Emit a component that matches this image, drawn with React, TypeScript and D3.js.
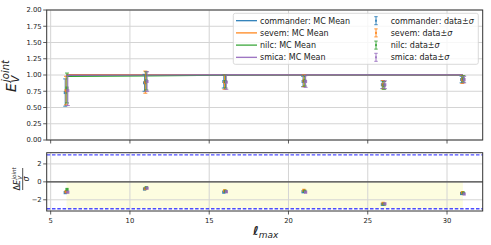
import React from 'react';
import * as d3 from 'd3';

const lmax = [6, 11, 16, 21, 26, 31];
const methods = ['commander', 'sevem', 'nilc', 'smica'];
const colors = ['#1f77b4', '#ff7f0e', '#2ca02c', '#9467bd'];
const xOffsets = [-0.08, -0.03, 0.03, 0.08];

// MC mean of E_V^joint
const commanderMC = [0.995, 1.0, 1.002, 1.0, 1.001, 1.0];
const sevemMC = [1.006, 1.004, 1.0, 1.002, 1.0, 1.001];
const nilcMC = [0.98, 0.986, 0.996, 1.0, 1.0, 1.0];
const smicaMC = [0.998, 1.0, 1.001, 1.003, 1.002, 1.003];

// observed E_V^joint
const commanderData = [0.73, 0.88, 0.9, 0.9, 0.85, 0.93];
const sevemData = [0.76, 0.89, 0.89, 0.91, 0.85, 0.93];
const nilcData = [0.8, 0.91, 0.9, 0.91, 0.84, 0.94];
const smicaData = [0.76, 0.9, 0.89, 0.9, 0.85, 0.93];

const commanderSigma = [0.21, 0.13, 0.1, 0.08, 0.06, 0.05];
const sevemSigma = [0.22, 0.17, 0.11, 0.09, 0.065, 0.06];
const nilcSigma = [0.23, 0.14, 0.1, 0.08, 0.06, 0.05];
const smicaSigma = [0.23, 0.15, 0.11, 0.09, 0.06, 0.05];

// (data - MC) / sigma
const commanderDev = [-1.2, -0.8, -1.15, -1.1, -2.5, -1.3];
const sevemDev = [-1.1, -0.75, -1.0, -0.95, -2.4, -1.2];
const nilcDev = [-0.85, -0.65, -1.05, -1.05, -2.5, -1.25];
const smicaDev = [-1.15, -0.7, -1.1, -1.15, -2.45, -1.35];

const xTicks = [5, 10, 15, 20, 25, 30];
const yTopTicks = [0, 0.25, 0.5, 0.75, 1.0, 1.25, 1.5, 1.75, 2.0];
const yBotTicks = [-2, 0, 2];
const threshold = 3;

const mcSeries = [commanderMC, sevemMC, nilcMC, smicaMC];
const dataSeries = [commanderData, sevemData, nilcData, smicaData];
const sigmaSeries = [commanderSigma, sevemSigma, nilcSigma, smicaSigma];
const devSeries = [commanderDev, sevemDev, nilcDev, smicaDev];

const W = 491;
const H = 245;
const left = 46.7;
const right = 482.7;
const font = 'DejaVu Sans, sans-serif';
const gridColor = '#d4d4d4';
const spine = '#333';

export default function App() {
  const x = d3.scaleLinear().domain([4.75, 32.25]).range([left, right]);
  const yTop = d3.scaleLinear().domain([0, 2]).range([140, 10]);
  const yBot = d3.scaleLinear().domain([-3.25, 3.25]).range([211, 152.7]);

  const line = d3
    .line<number>()
    .x((_, i) => x(lmax[i]))
    .y((d) => yTop(d));

  const fillArea = d3
    .area<number>()
    .x((d) => x(d))
    .y0(yBot(0))
    .y1(yBot(-threshold));

  const [t1, b1] = yTop.range().slice().reverse();
  const [t2, b2] = yBot.range().slice().reverse();

  const legendRows = [20.7, 32.9, 45.1, 57.3];

  return (
    <svg
      width={W}
      height={H}
      style={{ position: 'absolute', left: 0, top: 0, background: '#fff' }}
      fontFamily={font}
    >
      {/* ---------- top panel ---------- */}
      <g>
        {xTicks.map((t) => (
          <line key={'gx' + t} x1={x(t)} x2={x(t)} y1={t1} y2={b1} stroke={gridColor} strokeWidth={1} />
        ))}
        {yTopTicks.map((t) => (
          <line key={'gy' + t} x1={left} x2={right} y1={yTop(t)} y2={yTop(t)} stroke={gridColor} strokeWidth={1} />
        ))}
        {mcSeries.map((s, k) => (
          <path key={'mc' + k} d={line(s) || ''} fill="none" stroke={colors[k]} strokeWidth={1.2} />
        ))}
        {dataSeries.map((s, k) => (
          <g key={'eb' + k} stroke={colors[k]} opacity={0.85}>
            {s.map((v, i) => {
              const cx = x(lmax[i] + xOffsets[k]);
              const lo = yTop(v - sigmaSeries[k][i]);
              const hi = yTop(v + sigmaSeries[k][i]);
              return (
                <g key={i}>
                  <line x1={cx} x2={cx} y1={lo} y2={hi} strokeWidth={1.1} />
                  <line x1={cx - 2} x2={cx + 2} y1={lo} y2={lo} strokeWidth={1} />
                  <line x1={cx - 2} x2={cx + 2} y1={hi} y2={hi} strokeWidth={1} />
                  <rect x={cx - 1.5} y={yTop(v) - 1.5} width={3} height={3} fill={colors[k]} stroke="none" />
                </g>
              );
            })}
          </g>
        ))}
        <rect x={left} y={t1} width={right - left} height={b1 - t1} fill="none" stroke={spine} strokeWidth={1} />
        {xTicks.map((t) => (
          <line key={'tx' + t} x1={x(t)} x2={x(t)} y1={b1} y2={b1 + 3.5} stroke={spine} strokeWidth={0.8} />
        ))}
        {yTopTicks.map((t) => (
          <g key={'ty' + t}>
            <line x1={left - 3.5} x2={left} y1={yTop(t)} y2={yTop(t)} stroke={spine} strokeWidth={0.8} />
            <text x={left - 5} y={yTop(t) + 2.4} fontSize={6.8} textAnchor="end" fill="#222">
              {t.toFixed(2)}
            </text>
          </g>
        ))}
        {/* y label E_V^joint */}
        <g transform="translate(15.5,92) rotate(-90)">
          <text x={0} y={0} fontSize={14} fontStyle="italic" fill="#222">E</text>
          <text x={10} y={-6.5} fontSize={10} fontStyle="italic" fill="#222">joint</text>
          <text x={9.5} y={3} fontSize={10} fontStyle="italic" fill="#222">V</text>
        </g>
        {/* legend */}
        <rect x={233.3} y={13.3} width={245} height={51} rx={2} fill="#fff" fillOpacity={0.8} stroke="#d0d0d0" strokeWidth={0.8} />
        {methods.map((m, k) => (
          <g key={'lg' + m}>
            <line x1={236} x2={257} y1={legendRows[k]} y2={legendRows[k]} stroke={colors[k]} strokeWidth={1.2} />
            <text x={260} y={legendRows[k] + 2.9} fontSize={8} fill="#222">
              {m}: MC Mean
            </text>
            <g stroke={colors[k]} opacity={0.85}>
              <line x1={376} x2={376} y1={legendRows[k] - 4} y2={legendRows[k] + 4} strokeWidth={1} />
              <line x1={374.3} x2={377.7} y1={legendRows[k] - 4} y2={legendRows[k] - 4} strokeWidth={1} />
              <line x1={374.3} x2={377.7} y1={legendRows[k] + 4} y2={legendRows[k] + 4} strokeWidth={1} />
              <rect x={375} y={legendRows[k] - 1} width={2} height={2} fill={colors[k]} stroke="none" />
            </g>
            <text x={390.7} y={legendRows[k] + 2.9} fontSize={8} fill="#222">
              {m}: data±<tspan fontStyle="italic">σ</tspan>
            </text>
          </g>
        ))}
      </g>

      {/* ---------- bottom panel ---------- */}
      <g>
        <path d={fillArea([lmax[0], lmax[lmax.length - 1]]) || ''} fill="#fdfde0" />
        {xTicks.map((t) => (
          <line key={'bgx' + t} x1={x(t)} x2={x(t)} y1={t2} y2={b2} stroke={gridColor} strokeWidth={1} />
        ))}
        {yBotTicks.map((t) => (
          <line key={'bgy' + t} x1={left} x2={right} y1={yBot(t)} y2={yBot(t)} stroke={gridColor} strokeWidth={1} />
        ))}
        <line x1={left} x2={right} y1={yBot(0)} y2={yBot(0)} stroke="#444" strokeWidth={1.4} />
        {[threshold, -threshold].map((t) => (
          <line
            key={'th' + t}
            x1={left}
            x2={right}
            y1={yBot(t)}
            y2={yBot(t)}
            stroke="#2020ff"
            strokeOpacity={0.8}
            strokeWidth={1.3}
            strokeDasharray="3.5,1.8"
          />
        ))}
        {devSeries.map((s, k) =>
          s.map((v, i) => (
            <rect
              key={'dv' + k + '-' + i}
              x={x(lmax[i] + xOffsets[k]) - 1.6}
              y={yBot(v) - 1.6}
              width={3.2}
              height={3.2}
              fill={colors[k]}
              opacity={0.9}
            />
          ))
        )}
        <rect x={left} y={t2} width={right - left} height={b2 - t2} fill="none" stroke={spine} strokeWidth={1} />
        {xTicks.map((t) => (
          <g key={'btx' + t}>
            <line x1={x(t)} x2={x(t)} y1={b2} y2={b2 + 3.5} stroke={spine} strokeWidth={0.8} />
            <text x={x(t)} y={b2 + 11.5} fontSize={6.8} textAnchor="middle" fill="#222">
              {t}
            </text>
          </g>
        ))}
        {yBotTicks.map((t) => (
          <g key={'bty' + t}>
            <line x1={left - 3.5} x2={left} y1={yBot(t)} y2={yBot(t)} stroke={spine} strokeWidth={0.8} />
            <text x={left - 5} y={yBot(t) + 2.4} fontSize={6.8} textAnchor="end" fill="#222">
              {t < 0 ? '\u2212' + Math.abs(t) : t}
            </text>
          </g>
        ))}
        {/* y label: Delta E_V^joint / sigma */}
        <g transform="translate(22.7,179) rotate(-90)">
          <text x={-11.5} y={-3} fontSize={8} fill="#222">Δ<tspan fontStyle="italic">E</tspan></text>
          <text x={-0.5} y={-7} fontSize={5.6} fontStyle="italic" fill="#222">joint</text>
          <text x={-0.8} y={-1} fontSize={5.6} fontStyle="italic" fill="#222">V</text>
          <line x1={-11} x2={11} y1={0} y2={0} stroke="#222" strokeWidth={0.8} />
          <text x={0} y={6.5} fontSize={8} fontStyle="italic" textAnchor="middle" fill="#222">σ</text>
        </g>
        {/* x label */}
        <text x={253} y={235} fontSize={12} fontStyle="italic" fontWeight="bold" fill="#222">
          ℓ
          <tspan fontSize={9} fontWeight="normal" dy={2.5}>max</tspan>
        </text>
      </g>
    </svg>
  );
}
